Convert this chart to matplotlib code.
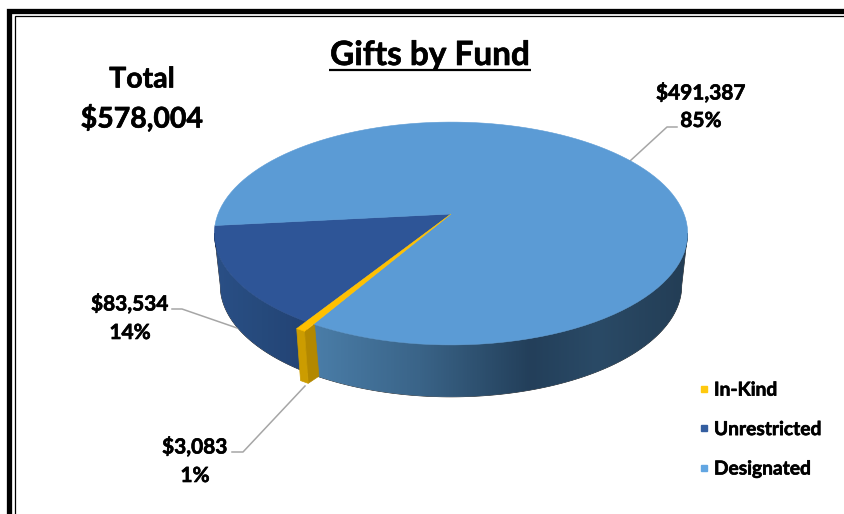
import numpy as np
import matplotlib
matplotlib.use("Agg")
import matplotlib.pyplot as plt
import matplotlib.patheffects as pe
from matplotlib.colors import LinearSegmentedColormap
from matplotlib.lines import Line2D
from matplotlib.patches import Polygon

plt.rcParams['font.family'] = ['Lato', 'DejaVu Sans']
plt.rcParams['font.weight'] = 'bold'
plt.rcParams['path.effects'] = [pe.withStroke(linewidth=0.45, foreground='black')]

funds = ["In-Kind", "Unrestricted", "Designated"]
gifts = [3083, 83534, 491387]
top_colors = ["#ffc000", "#2e5597", "#5b9bd5"]
legend_colors = ["#ffc90e", "#345ea0", "#62a6e2"]

# pie geometry in pixels of the picture
cx, cy = 451, 214
a, b, k = 233, 108, 0.175
depth = 52
bottom_shrink = 0.975
start = 174.0          # where Unrestricted starts, going anticlockwise on screen
explode = 1.065

total = sum(gifts)
shares = np.array(gifts) / total * 360


def project(t, r=1.0):
    t = np.radians(t)
    w = 1 - k * np.sin(t)
    return cx + r * a * np.cos(t) / w, cy + r * b * np.sin(t) / w


def rim(t0, t1, r=1.0, n=120):
    return project(np.linspace(t0, t1, n), r)


def wall_outline(t0, t1, r=1.0, n=160):
    x, y = rim(t0, t1, r, n)
    bx = cx + (x - cx) * bottom_shrink
    by = y + depth
    return np.r_[x, bx[::-1]], np.r_[y, by[::-1]]


def gradient_wall(ax, t0, t1, cmap, x0, x1, z=2):
    xs, ys = wall_outline(t0, t1)
    poly = Polygon(np.c_[xs, ys], closed=True, fc='none', ec='none', transform=ax.transData)
    ax.add_patch(poly)
    grad = np.linspace(0, 1, 400).reshape(1, -1)
    im = ax.imshow(grad, cmap=cmap, extent=[x0, x1, 514, 0], aspect='auto', zorder=z)
    im.set_clip_path(poly)


fig = plt.figure(figsize=(8.44, 5.14), dpi=100)
ax = fig.add_axes([0, 0, 1, 1])
ax.axis('off')

# frame, only left and top show
ax.plot([9, 9, 844], [514, 10.5, 10.5], color='black', lw=3.8, solid_joinstyle='miter', path_effects=[])
ax.plot([15, 15, 844], [514, 16, 16], color='black', lw=0.9, solid_joinstyle='miter', path_effects=[])

u0 = start
u1 = u0 - shares[1]
k1 = u1 - shares[0]
d1 = u0 - 360

designated_wall = LinearSegmentedColormap.from_list(
    "dw", [(0, "#4a7da8"), (0.28, "#3a6488"), (0.58, "#233f5a"),
           (0.76, "#2a4a66"), (1, "#233d55")])
unrestricted_wall = LinearSegmentedColormap.from_list(
    "uw", [(0, "#2a4f86"), (0.5, "#264a7c"), (1, "#234274")])

# side walls, run out to the widest points of the rim
gradient_wall(ax, 170, u1, unrestricted_wall, 214, 310)
gradient_wall(ax, k1, 10, designated_wall, 314, 688)

# yellow slice side, sticks out a bit
x0, y0 = project(k1, explode)
dx0, dy0 = project(k1)
ax.fill([x0, dx0 + 1, cx + (dx0 + 1 - cx) * bottom_shrink + 1, cx + (x0 - cx) * bottom_shrink],
        [y0, dy0, dy0 + depth, y0 + depth], color="#b38800", lw=0.5, zorder=3, path_effects=[])
xs, ys = wall_outline(u1, k1, explode, 6)
ax.fill(xs, ys, color="#cc9c00", lw=0.5, zorder=3, path_effects=[])

# top faces
for i, (t0, t1, r) in enumerate([(u1, k1, explode), (u0, u1, 1.0), (k1, d1, 1.0)]):
    x, y = rim(t0, t1, r)
    ax.fill(np.r_[cx, x], np.r_[cy, y], color=top_colors[i], lw=0.4, zorder=4 if i != 0 else 5, path_effects=[])

# titles
ax.text(430, 55.5, "Gifts by Fund", fontsize=24, ha='center', va='center', color='black')
ax.plot([329, 531], [70, 70], color='black', lw=1.6, solid_capstyle='butt', path_effects=[])
ax.text(142, 79.5, "Total", fontsize=20.5, ha='center', va='center', color='black')
ax.text(142, 118.5, "${:,}".format(total), fontsize=20.5, ha='center', va='center', color='black')

# labels, with leader lines
label_pos = [(195, 447, 476), (130, 304, 333), (701, 93, 121)]
leaders = [([232, 243, 305], [452, 452, 386]),
           ([172, 182, 240], [309, 309, 329]),
           ([677, 667, 630], [127, 127, 161])]
for i in range(3):
    lx, ly1, ly2 = label_pos[i]
    pct = gifts[i] / total * 100
    ax.text(lx, ly1, "${:,}".format(gifts[i]), fontsize=15, ha='center', va='center', color='black')
    ax.text(lx, ly2, "{:.0f}%".format(max(pct, 1)), fontsize=15, ha='center', va='center', color='black')
    ax.plot(leaders[i][0], leaders[i][1], color="#a6a6a6", lw=1.1, zorder=1, path_effects=[])

handles = [Line2D([], [], ls='none', marker='s', ms=5, color=c, path_effects=[]) for c in legend_colors]
ax.legend(handles, funds, loc='upper left', bbox_to_anchor=(689 / 844, 1 - 374 / 514), frameon=False,
          fontsize=13.8, labelspacing=1.17, handlelength=0.8, handletextpad=0.1, borderaxespad=0)

ax.set_xlim(0, 844)
ax.set_ylim(514, 0)
fig.savefig("out.png", dpi=100)
